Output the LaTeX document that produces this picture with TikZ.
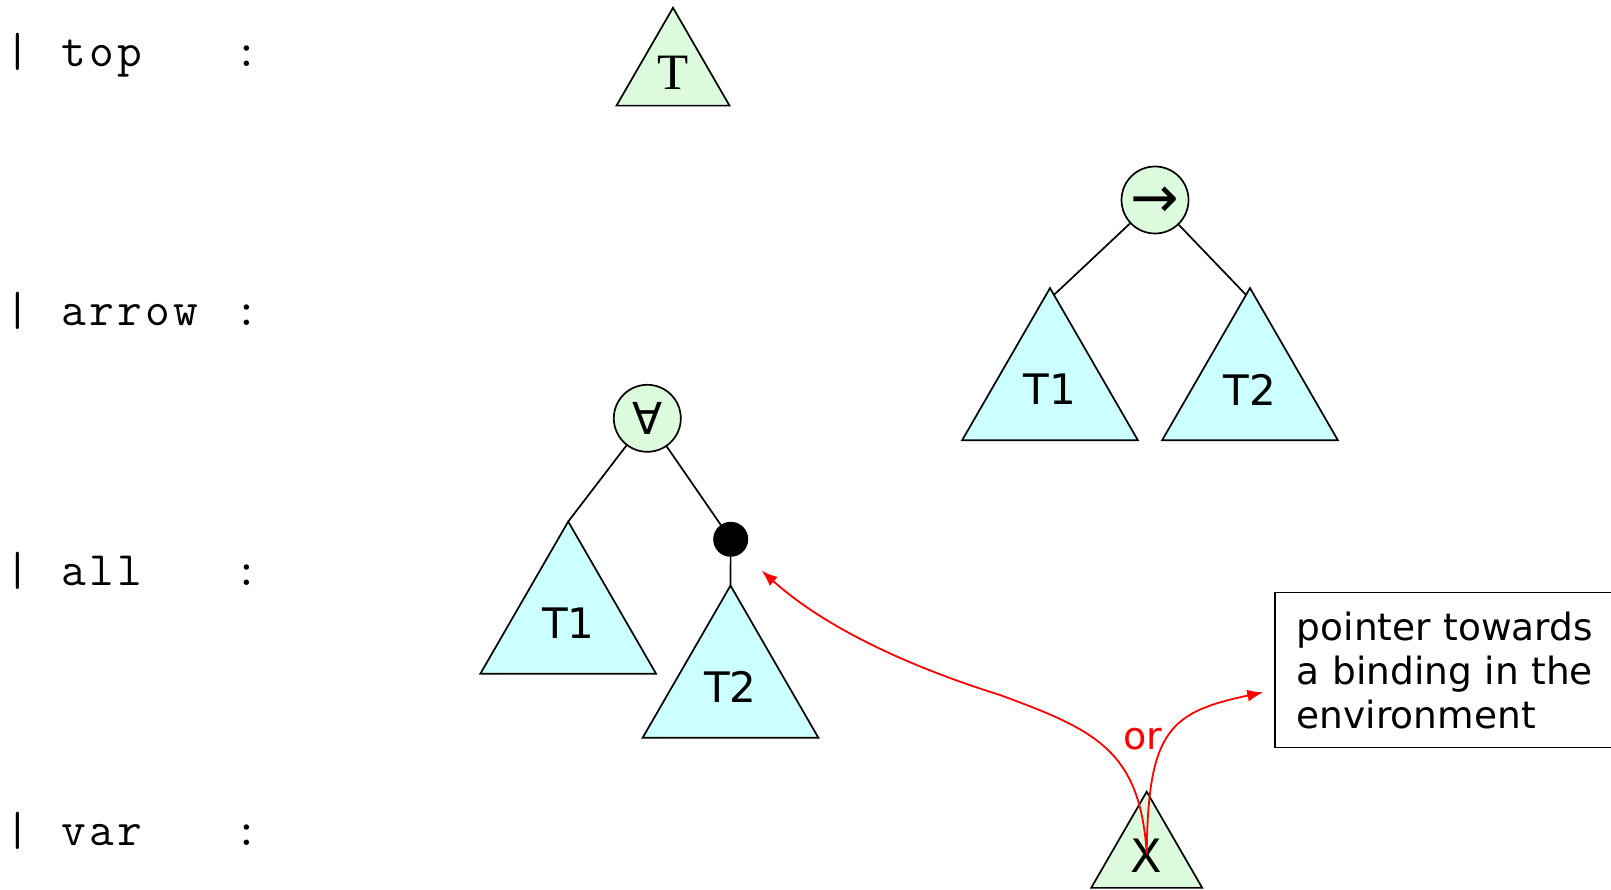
\documentclass[tikz,border=0pt]{standalone}
\usepackage{fontspec}
\setmainfont{DejaVu Sans}
\newfontfamily\codefont{Latin Modern Mono}[LetterSpace=7]
\newfontfamily\serifT{Liberation Serif}
\usetikzlibrary{shapes.geometric,arrows.meta,calc}
\definecolor{leaf}{RGB}{220,251,220}
\definecolor{subtree}{RGB}{204,255,255}
\definecolor{ptr}{RGB}{255,0,0}

\tikzset{
  code/.style={font=\codefont\fontsize{48}{52}\selectfont, inner sep=0pt, outer sep=0pt},
  tri/.style={regular polygon, regular polygon sides=3, draw, line width=1.7pt,
              inner sep=0pt, outer sep=0pt},
  bigtri/.style={tri, fill=subtree, minimum size=202.9pt,
                 font=\fontsize{42}{46}\selectfont},
  smalltri/.style={tri, fill=leaf},
  opnode/.style={circle, draw, fill=leaf, line width=1.7pt, minimum size=67pt,
                 inner sep=0pt, outer sep=0pt},
  bindnode/.style={circle, fill=black, minimum size=35pt, inner sep=0pt, outer sep=0pt},
  edge/.style={line width=1.7pt},
  ptrline/.style={draw=ptr, line width=1.8pt, -{Latex[length=16pt,width=12pt]}},
}

\begin{document}
\begin{tikzpicture}[x=1pt,y=-1pt]
\useasboundingbox (0,0) rectangle (1611,890);
\clip (0,0) rectangle (1611,890);

% constructor names
\node[code, anchor=base] (bartop) at (18.3,67) {|};
\node[code, anchor=base west] (kwtop) at (61,67) {top};
\node[code, anchor=base] (coltop) at (247,67) {:};

\node[code, anchor=base] (bararrow) at (18.3,326) {|};
\node[code, anchor=base west] (kwarrow) at (61,326) {arrow};
\node[code, anchor=base] (colarrow) at (247,326) {:};

\node[code, anchor=base] (barall) at (18.3,585) {|};
\node[code, anchor=base west] (kwall) at (61,585) {all};
\node[code, anchor=base] (colall) at (247,585) {:};

\node[code, anchor=base] (barvar) at (18.3,845) {|};
\node[code, anchor=base west] (kwvar) at (61,845) {var};
\node[code, anchor=base] (colvar) at (247,845) {:};

% top
\node[smalltri, minimum size=130.5pt, font=\serifT\fontsize{51}{55}\selectfont] (topT) at (673,73) {T};

% arrow
\node[opnode, font=\fontsize{58}{62}\selectfont] (arrowop) at (1155,200) {\raisebox{-18pt}[0pt][0pt]{→}};
\node[bigtri] (arrT1) at (1050,389.5) {T1};
\node[bigtri] (arrT2) at (1250,389.5) {T2};
\draw[edge] (arrowop) -- ($(arrT1.corner 1)!0.045!(arrT1.corner 3)$);
\draw[edge] (arrowop) -- ($(arrT2.corner 1)!0.045!(arrT2.corner 2)$);

% all
\node[opnode, font=\fontsize{44}{48}\selectfont] (allop) at (647.3,418.3) {∀};
\node[bindnode] (bind) at (730.7,539.3) {};
\node[bigtri] (allT1) at (568.2,623) {T1};
\node[bigtri] (allT2) at (730.5,687) {T2};
\draw[edge] (allop) -- (allT1.corner 1);
\draw[edge] (allop) -- (bind);
\draw[edge] (bind) -- (allT2.corner 1);

% var
\node[smalltri, minimum size=128.2pt, font=\fontsize{46}{50}\selectfont] (varX) at (1146.7,855.8) {X};

% note
\node[draw, line width=1.7pt, anchor=north west, align=left, text width=320pt,
      inner xsep=22pt, inner ysep=19pt, font=\fontsize{37.5}{44}\selectfont]
      (envnote) at (1274,591.7) {pointer towards\\a binding in the\\environment};

% pointers out of the variable
\coordinate (xsrc) at (1146.7,853.3);
\coordinate (bendpt) at (1000,695);
\coordinate (bindtip) at (761.7,570.7);
\coordinate (envtip) at (1263.3,692.3);
\draw[ptrline] (xsrc) .. controls (1140,750) and (1095,730) .. (bendpt)
               .. controls (920,670) and (830,632) .. (bindtip);
\draw[ptrline] (xsrc) .. controls (1148,730) and (1170,712) .. (envtip);
\node[text=ptr, font=\fontsize{38}{42}\selectfont, inner sep=0pt] (orlabel) at (1143,739) {or};
\end{tikzpicture}
\end{document}
